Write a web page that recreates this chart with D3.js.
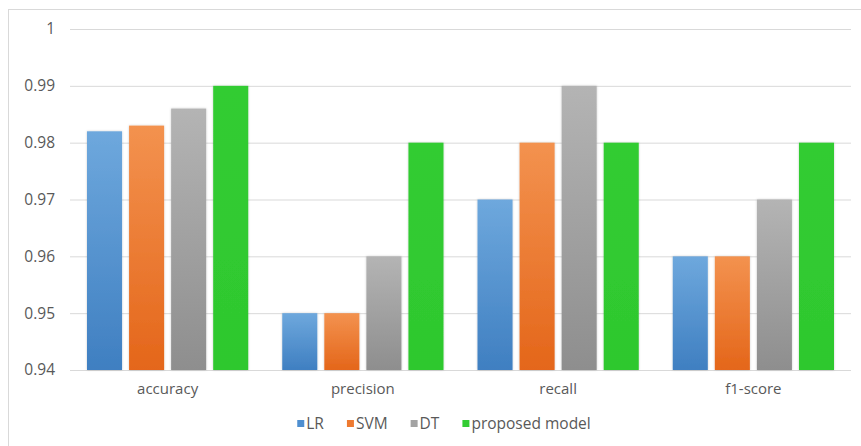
<!DOCTYPE html>
<html>
<head>
<meta charset="utf-8">
<script src="https://cdn.jsdelivr.net/npm/d3@7"></script>
<style>
  body { margin: 0; background: #fff; }
  svg text { font-family: "Open Sans", sans-serif; fill: #595959; }
</style>
</head>
<body>
<svg id="chart" width="861" height="446"></svg>
<script>
const categories = ["accuracy", "precision", "recall", "f1-score"];
const seriesNames = ["LR", "SVM", "DT", "proposed model"];
const lrValues = [0.982, 0.95, 0.97, 0.96];
const svmValues = [0.983, 0.95, 0.98, 0.96];
const dtValues = [0.986, 0.96, 0.99, 0.97];
const proposedValues = [0.99, 0.98, 0.98, 0.98];
const yTicks = [0.94, 0.95, 0.96, 0.97, 0.98, 0.99, 1];

const seriesValues = [lrValues, svmValues, dtValues, proposedValues];
const colors = {
    "LR": ["#6ea8dd", "#3f7fc1"],
    "SVM": ["#f3924f", "#e4661a"],
    "DT": ["#b4b4b4", "#8e8e8e"],
    "proposed model": ["#33cc33", "#2ec82e"]
};
const legendColors = {"LR": "#4f8fd0", "SVM": "#ee7a30", "DT": "#a3a3a3", "proposed model": "#33cc33"};

const svg = d3.select("#chart");
const plotLeft = 70, plotRight = 851, plotTop = 29, plotBottom = 370;

// outer frame
svg.append("rect")
    .attr("x", 8.5).attr("y", 9.5)
    .attr("width", 900).attr("height", 500)
    .attr("fill", "none")
    .attr("stroke", "#d9d9d9");

const defs = svg.append("defs");
seriesNames.forEach((s, i) => {
    const grad = defs.append("linearGradient")
        .attr("id", "g" + i)
        .attr("x1", 0).attr("y1", 0).attr("x2", 0).attr("y2", 1);
    grad.append("stop").attr("offset", "0%").attr("stop-color", colors[s][0]);
    grad.append("stop").attr("offset", "100%").attr("stop-color", colors[s][1]);
});
const shadow = defs.append("filter").attr("id", "shadow")
    .attr("x", "-20%").attr("y", "-5%").attr("width", "140%").attr("height", "110%");
shadow.append("feDropShadow")
    .attr("dx", 0).attr("dy", 0).attr("stdDeviation", 1.3)
    .attr("flood-color", "#000").attr("flood-opacity", 0.2);

const x0 = d3.scaleBand().domain(categories).range([plotLeft, plotRight]);
const x1 = d3.scaleBand().domain(seriesNames)
    .range([17, x0.bandwidth() - 17])
    .paddingInner(1 / 6);
const y = d3.scaleLinear().domain([0.94, 1]).range([plotBottom, plotTop]);

// gridlines and y labels
const yAxis = svg.append("g")
    .attr("transform", `translate(${plotLeft},0)`)
    .call(d3.axisLeft(y).tickValues(yTicks).tickSize(-(plotRight - plotLeft)).tickPadding(15)
        .tickFormat(d => d3.format("")(+d.toFixed(2))));
yAxis.select(".domain").remove();
yAxis.selectAll("line").attr("stroke", "#d9d9d9").attr("stroke-width", 1);
yAxis.selectAll("text").style("font-size", "15.5px").attr("fill", "#595959");

// bars
const groups = svg.append("g").selectAll("g")
    .data(categories)
    .join("g")
    .attr("transform", d => `translate(${x0(d)},0)`);

groups.selectAll("rect")
    .data((c, ci) => seriesNames.map((s, si) => ({s, si, v: seriesValues[si][ci]})))
    .join("rect")
    .attr("x", d => x1(d.s))
    .attr("y", d => y(d.v))
    .attr("width", x1.bandwidth())
    .attr("height", d => y(0.94) - y(d.v))
    .attr("fill", d => `url(#g${d.si})`)
    .attr("filter", "url(#shadow)");

// category labels
svg.append("g").selectAll("text")
    .data(categories)
    .join("text")
    .attr("x", d => x0(d) + x0.bandwidth() / 2)
    .attr("y", 394)
    .attr("text-anchor", "middle")
    .style("font-size", "15px")
    .text(d => d);

// legend
const legend = svg.append("g");
let lx = 0;
seriesNames.forEach(s => {
    const item = legend.append("g").attr("transform", `translate(${lx},0)`);
    item.append("rect")
        .attr("x", 0).attr("y", -9)
        .attr("width", 7).attr("height", 7)
        .attr("fill", legendColors[s]);
    const t = item.append("text")
        .attr("x", 9).attr("y", 0)
        .style("font-size", "15.5px")
        .text(s);
    lx += 9 + t.node().getComputedTextLength() + 23;
});
const legendWidth = lx - 23;
legend.attr("transform", `translate(${444 - legendWidth / 2},429)`);
</script>
</body>
</html>
